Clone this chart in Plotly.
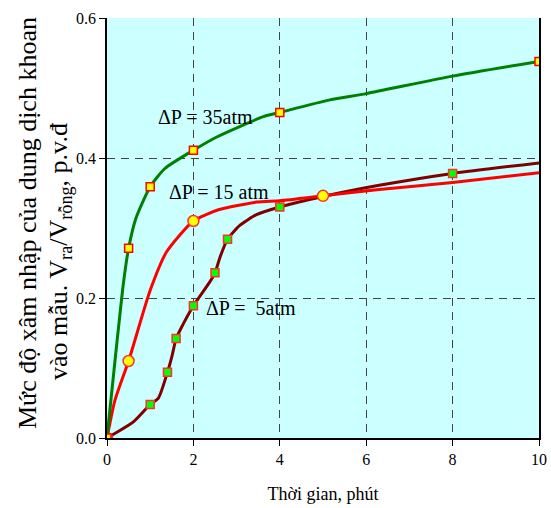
import plotly.graph_objects as go

# Time (minutes) and invasion degree (p.v.d) along each curve
t_35 = [0, 0.38, 0.5, 0.67, 1.0, 1.34, 2.0, 2.54, 3.62, 4.0, 5.16, 6.0, 8.0, 10.0]
v_35 = [0, 0.221, 0.271, 0.314, 0.359, 0.385, 0.411, 0.430, 0.459, 0.465, 0.483, 0.492, 0.517, 0.538]
t_35_pts = [0, 0.5, 1.0, 2.0, 4.0, 10.0]
v_35_pts = [0, 0.271, 0.359, 0.411, 0.465, 0.538]

t_15 = [0, 0.185, 0.5, 1.0, 1.38, 2.0, 2.58, 3.46, 4.0, 5.0, 6.3, 8.0, 10.0]
v_15 = [0, 0.054, 0.11, 0.211, 0.266, 0.310, 0.326, 0.337, 0.339, 0.346, 0.355, 0.365, 0.379]
t_15_pts = [0, 0.5, 2.0, 5.0]
v_15_pts = [0, 0.11, 0.310, 0.346]

t_5 = [0, 0.61, 1.0, 1.19, 1.4, 1.5, 1.6, 1.69, 2.0, 2.38, 2.5, 2.62, 2.79, 3.08, 3.46, 4.0, 5.0, 6.3, 8.0, 10.0]
v_5 = [0, 0.023, 0.048, 0.057, 0.094, 0.116, 0.142, 0.154, 0.189, 0.223, 0.236, 0.259, 0.284, 0.304, 0.319, 0.330, 0.345, 0.361, 0.378, 0.393]
t_5_pts = [1.0, 1.4, 1.6, 2.0, 2.5, 2.79, 4.0, 8.0]
v_5_pts = [0.048, 0.094, 0.142, 0.189, 0.236, 0.284, 0.330, 0.378]

NB = "\u00a0"
curve_labels = [f"ΔP ={NB}{NB}5atm", "ΔP = 15 atm", "ΔP = 35atm"]
label_pos = [(3.33, 0.186), (2.59, 0.351), (2.27, 0.459)]

x_ticks = [0, 2, 4, 6, 8, 10]
y_ticks = [0.0, 0.2, 0.4, 0.6]

y_title_1 = "Mức độ xâm nhập của dung dịch khoan"
y_title_2 = "vào mẫu. V<sub>ra</sub>/V<sub>rỗng</sub>, p.v.đ"

SERIF = "Liberation Serif, Times New Roman, serif"
L, R, T, B = 107, 12, 18, 70
W, H = 551, 508
PW, PH = W - L - R, H - T - B

fig = go.Figure()

# Brown curve (5 atm)
fig.add_trace(go.Scatter(x=t_5, y=v_5, mode="lines", line=dict(color="#800000", width=3, shape="spline", smoothing=0.6), hoverinfo="skip"))
fig.add_trace(go.Scatter(x=t_5_pts, y=v_5_pts, mode="markers",
                         marker=dict(symbol="square", size=8, color="#00FF00", line=dict(color="#FF3030", width=1.5))))

# Red curve (15 atm)
fig.add_trace(go.Scatter(x=t_15, y=v_15, mode="lines", line=dict(color="#FF0000", width=3, shape="spline", smoothing=0.6), hoverinfo="skip"))
fig.add_trace(go.Scatter(x=t_15_pts, y=v_15_pts, mode="markers",
                         marker=dict(symbol="circle", size=11, color="#FFFF00", line=dict(color="#FF3030", width=1.5))))

# Green curve (35 atm)
fig.add_trace(go.Scatter(x=t_35, y=v_35, mode="lines", line=dict(color="#008000", width=3, shape="spline", smoothing=0.6), hoverinfo="skip"))
fig.add_trace(go.Scatter(x=t_35_pts, y=v_35_pts, mode="markers",
                         marker=dict(symbol="square", size=8, color="#FFFF00", line=dict(color="#FF0000", width=1.5))))

for txt, (lx, ly) in zip(curve_labels, label_pos):
    fig.add_annotation(x=lx, y=ly, text=txt, showarrow=False,
                       font=dict(family=SERIF, size=20, color="black"))

# Rotated y-axis title, one annotation per line
for txt, cx, cy in [(y_title_1, 27, 223), (y_title_2, 60, 252)]:
    fig.add_annotation(xref="paper", yref="paper",
                       x=(cx - L) / PW, y=(H - B - cy) / PH,
                       xanchor="center", yanchor="middle",
                       text=txt, textangle=-90, showarrow=False,
                       font=dict(family=SERIF, size=26, color="black"))

fig.update_layout(
    width=W, height=H,
    margin=dict(l=L, r=R, t=T, b=B, autoexpand=False),
    paper_bgcolor="white", plot_bgcolor="#CCFFFF",
    showlegend=False,
    font=dict(family=SERIF, color="black"),
    xaxis=dict(range=[0, 10], tickvals=x_ticks, ticks="outside", ticklen=6, tickcolor="black",
               showline=True, linecolor="black", linewidth=1.5, zeroline=False, automargin=False,
               showgrid=True, gridcolor="#444444", gridwidth=1.2, griddash="8px,6px",
               tickfont=dict(family=SERIF, size=16),
               title=dict(text="Thời gian, phút", font=dict(family=SERIF, size=18), standoff=20)),
    yaxis=dict(range=[0, 0.6], tickvals=y_ticks, tickformat=".1f", ticks="outside", ticklen=6, tickcolor="black",
               showline=True, linecolor="black", linewidth=1.5, mirror=True, zeroline=False, automargin=False,
               showgrid=True, gridcolor="#444444", gridwidth=1.2, griddash="8px,6px",
               tickfont=dict(family=SERIF, size=16)),
)

fig.write_html("out.html")
